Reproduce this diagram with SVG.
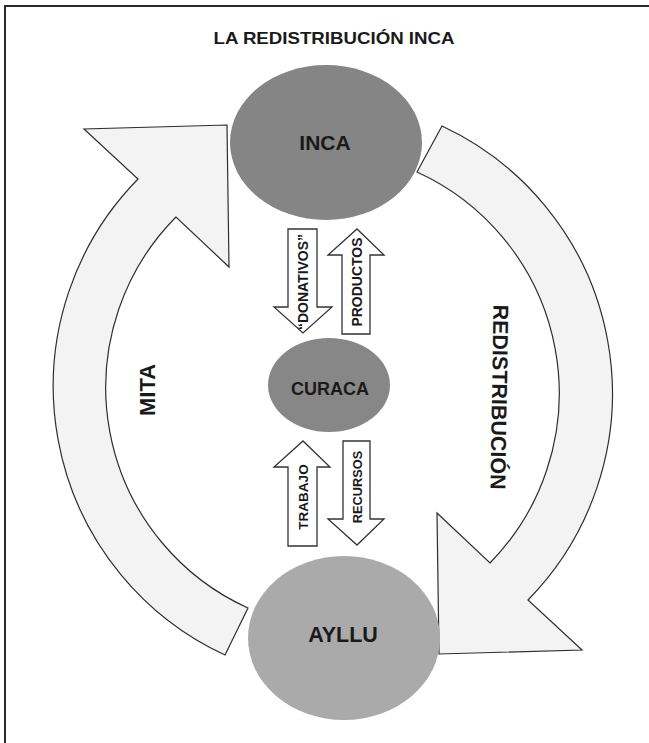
<svg xmlns="http://www.w3.org/2000/svg" width="649" height="743" viewBox="0 0 649 743">
<style>
.lbl{font-family:"Liberation Sans",Arial,sans-serif;font-weight:bold;fill:#1a1a1a}
.big{fill:#f3f3f3;stroke:#2e2e2e;stroke-width:1.2;stroke-linejoin:miter}
.small{fill:#ffffff;stroke:#333333;stroke-width:1.3;stroke-linejoin:miter}
</style>
<rect x="0" y="0" width="649" height="743" fill="#ffffff"/>
<path d="M5,760 L5,6 L660,6" fill="none" stroke="#2a2a2a" stroke-width="2"/>
<text class="lbl" x="334" y="43.5" font-size="16.5" text-anchor="middle" textLength="241" lengthAdjust="spacingAndGlyphs">LA REDISTRIBUCIÓN INCA</text>
<g id="connectors">
  <path id="mita" class="big" d="M225,655 A296,296 0 0 1 138,179 L84,129 L227,125 L229,267 L176,217 A242,242 0 0 0 248,608 Z"/>
  <path id="redistribucion" class="big" d="M442,126 A295,295 0 0 1 528,600 L582,650 L439,654 L437,513 L490,563 A243,243 0 0 0 417,172 Z"/>
  <path id="donativos" class="small" d="M288,229 H317 V307 H332 L303,333 L274,307 H288 Z"/>
  <path id="productos" class="small" d="M342,334 V255 H328 L357,229 L384,255 H370 V334 Z"/>
  <path id="trabajo" class="small" d="M288,546 V467 H274 L303,441 L330,467 H317 V546 Z"/>
  <path id="recursos" class="small" d="M343,441 H370 V519 H384 L357,545 L328,519 H343 Z"/>
  <text class="lbl" font-size="22" text-anchor="middle" transform="translate(155,390) rotate(-90)">MITA</text>
  <text class="lbl" font-size="21.5" text-anchor="middle" transform="translate(492,397) rotate(91)">REDISTRIBUCIÓN</text>
  <text class="lbl" font-size="14" text-anchor="middle" transform="translate(308,282) rotate(-90)">“DONATIVOS”</text>
  <text class="lbl" font-size="14" text-anchor="middle" transform="translate(362,282) rotate(-90)">PRODUCTOS</text>
  <text class="lbl" font-size="13.5" text-anchor="middle" transform="translate(308,497) rotate(-90)">TRABAJO</text>
  <text class="lbl" font-size="12.8" text-anchor="middle" transform="translate(362,487) rotate(-90)">RECURSOS</text>
</g>
<g id="inca">
  <ellipse cx="326" cy="142.5" rx="96" ry="77.5" fill="#858585"/>
  <text class="lbl" x="325" y="150" font-size="21" text-anchor="middle">INCA</text>
</g>
<g id="curaca">
  <ellipse cx="329" cy="385" rx="61" ry="47" fill="#878787"/>
  <text class="lbl" x="330" y="395" font-size="18" text-anchor="middle">CURACA</text>
</g>
<g id="ayllu">
  <ellipse cx="344" cy="638" rx="96" ry="82" fill="#aaaaaa"/>
  <text class="lbl" x="343" y="642" font-size="21.5" text-anchor="middle">AYLLU</text>
</g>
</svg>
